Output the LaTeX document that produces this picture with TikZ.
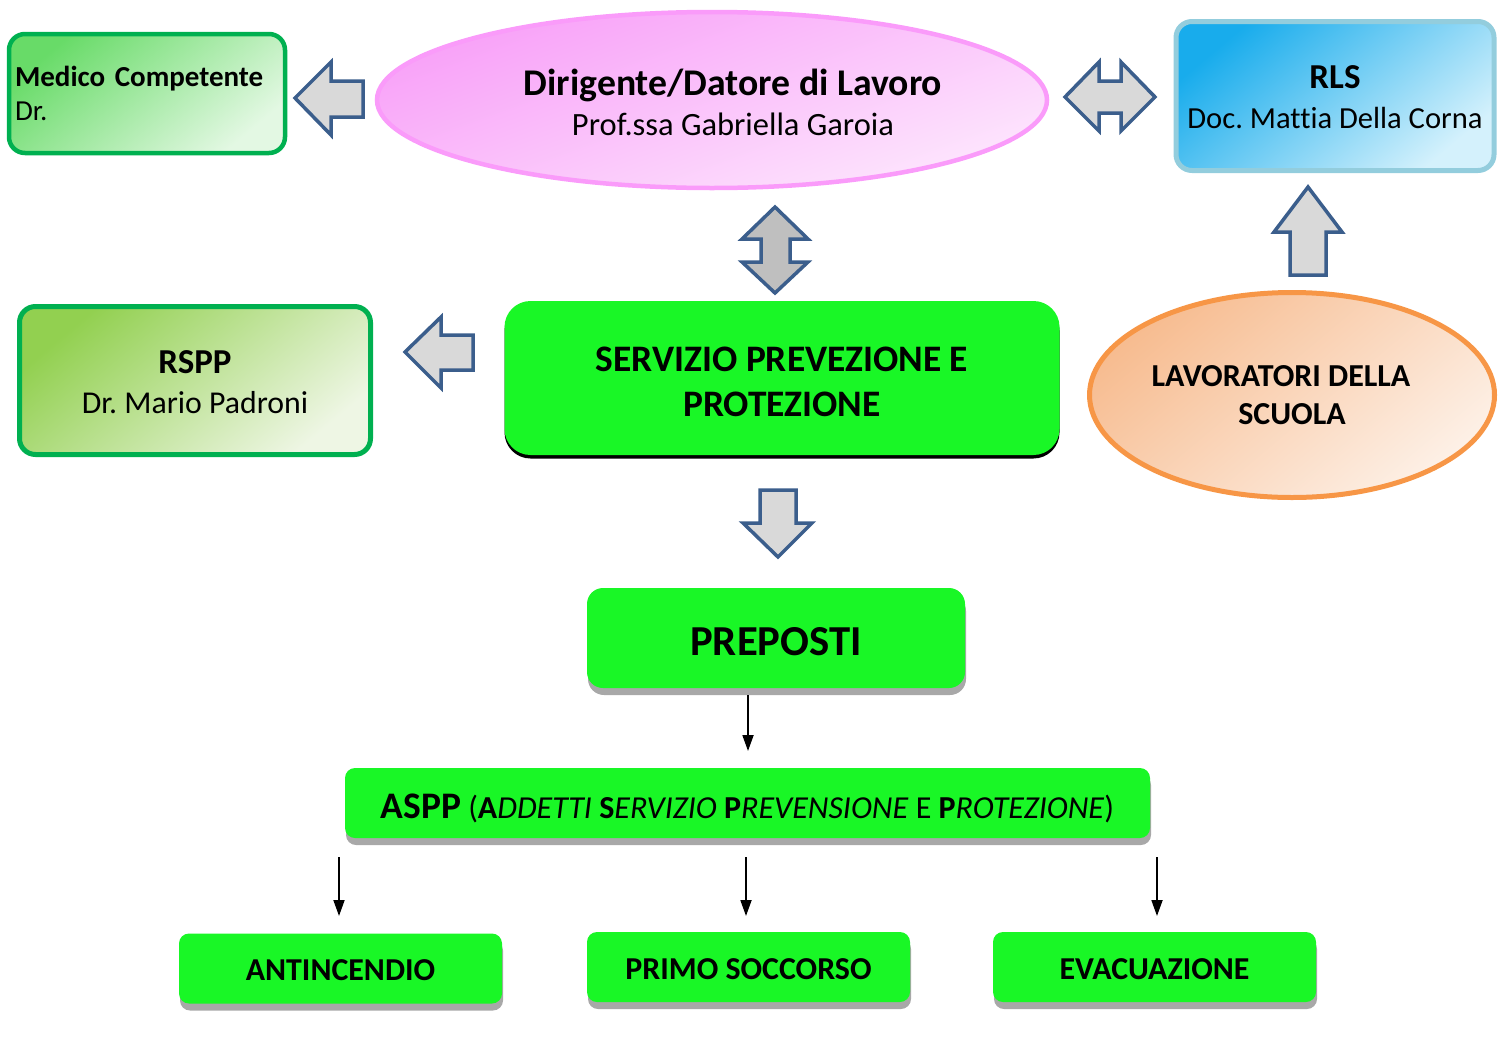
\documentclass[tikz,border=0pt]{standalone}
\usepackage{fontspec}
\setmainfont{Carlito}[Ligatures=NoCommon]
\usetikzlibrary{shapes.geometric,shadows,arrows.meta}
\definecolor{sppgreen}{HTML}{19F726}
\definecolor{shadowgray}{HTML}{A8A8A8}
\definecolor{arrowgray}{HTML}{D9D9D9}
\definecolor{arrowgraydark}{HTML}{BFBFBF}
\definecolor{arrowblue}{HTML}{3B5E8C}
\definecolor{medborder}{HTML}{00B050}
\definecolor{medtl}{HTML}{68DB68}
\definecolor{medbr}{HTML}{E3F8E3}
\definecolor{rsptl}{HTML}{92D050}
\definecolor{rspbr}{HTML}{EEF6E4}
\definecolor{rlsborder}{HTML}{93CDDD}
\definecolor{rlstl}{HTML}{18ACEC}
\definecolor{rlsbr}{HTML}{D4F1FC}
\definecolor{pinkborder}{HTML}{FA9BFA}
\definecolor{pinktl}{HTML}{F8A0F8}
\definecolor{pinkbr}{HTML}{FDE6FD}
\definecolor{orborder}{HTML}{F79646}
\definecolor{ortl}{HTML}{F7BC90}
\definecolor{orbr}{HTML}{FDF0E6}
\newcommand{\lowerby}[2]{\raisebox{-#1}[\height][\depth]{#2}}
\tikzset{
  diagshade/.style n args={3}{top color=#1, bottom color=#2, shading angle=#3},
  sidebox/.style={rectangle, rounded corners=16pt, inner sep=0pt},
  gbox/.style={rectangle, fill=sppgreen, inner sep=0pt, align=center,
    drop shadow={shadow xshift=1pt, shadow yshift=-7pt, fill=shadowgray, opacity=1}},
  blockarrow/.style={fill=arrowgray, draw=arrowblue, line width=3.5pt, line join=miter},
  thinarrow/.style={line width=1.8pt, -{Triangle[length=16pt,width=11pt]}},
  txt/.style={inner sep=0pt, align=center, text=black}
}
\begin{document}
\frenchspacing
\begin{tikzpicture}[x=1pt,y=-1pt]
\useasboundingbox (0,0) rectangle (1498,1063);

% ---------- Medico Competente
\node[sidebox, draw=medborder, line width=4.5pt, diagshade={medtl}{medbr}{40},
      minimum width=276pt, minimum height=119pt, text width=260pt, align=left,
      font=\fontsize{29}{34}\selectfont] (med) at (147,93.5)
  {\hspace*{-2pt}\textbf{Medico Competente}\\\hspace*{-2pt}Dr.};

% ---------- Dirigente
\node[ellipse, draw=pinkborder, line width=4.5pt, diagshade={pinktl}{pinkbr}{20},
      minimum width=670pt, minimum height=176pt, inner sep=0pt] (dl) at (712,100) {};
\node[txt, font=\fontsize{32.5}{40}\selectfont] (dltext) at (733,102)
  {{\fontsize{37.7}{40}\selectfont\textbf{Dirigente/Datore di Lavoro}}\\Prof.ssa Gabriella Garoia};

% ---------- RLS
\node[sidebox, draw=rlsborder, line width=5pt, diagshade={rlstl}{rlsbr}{40},
      minimum width=318pt, minimum height=149pt, align=center,
      font=\fontsize{30.6}{40}\selectfont] (rls) at (1335,96)
  {\lowerby{1pt}{\fontsize{35}{40}\selectfont\textbf{RLS}}\\\lowerby{1pt}{Doc. Mattia Della Corna}};

% ---------- RSPP
\node[sidebox, draw=medborder, line width=5pt, diagshade={rsptl}{rspbr}{40},
      minimum width=351pt, minimum height=148pt, align=center,
      font=\fontsize{31.8}{40}\selectfont] (rspp) at (195,380.5)
  {\lowerby{2pt}{\fontsize{35}{40}\selectfont\textbf{RSPP}}\\\lowerby{2pt}{Dr. Mario Padroni}};

% ---------- Lavoratori
\node[ellipse, draw=orborder, line width=5pt, diagshade={ortl}{orbr}{40},
      minimum width=405pt, minimum height=205pt, inner sep=0pt, align=center,
      font=\fontsize{32}{38}\selectfont\bfseries] (lav) at (1292,395)
  {LAVORATORI DELLA\hspace*{22pt}\\SCUOLA};

% ---------- Servizio Prevenzione e Protezione
\node[rectangle, rounded corners=26pt, fill=sppgreen, inner sep=0pt, align=center,
      minimum width=555pt, minimum height=154pt,
      drop shadow={shadow xshift=0pt, shadow yshift=-3.5pt, fill=black, opacity=1},
      font=\fontsize{37.4}{45}\selectfont\bfseries] (spp) at (782,378)
  {\lowerby{4pt}{SERVIZIO PREVEZIONE E}\\\lowerby{4pt}{PROTEZIONE}};

% ---------- Preposti
\node[gbox, rounded corners=16pt, minimum width=378pt, minimum height=100pt,
      font=\fontsize{42.7}{48}\selectfont\bfseries] (prep) at (776,638) {\lowerby{4pt}{PREPOSTI}};

% ---------- ASPP
\node[gbox, rounded corners=10pt, minimum width=805pt, minimum height=70pt] (aspp) at (747.5,803)
  {\lowerby{5pt}{{\fontsize{37.5}{40}\selectfont\textbf{ASPP}}\hspace{7pt}{\fontsize{32}{34}\selectfont(\textbf{A}\textit{DDETTI} \textbf{S}\textit{ERVIZIO} \textbf{P}\textit{REVENSIONE} E \textbf{P}\textit{ROTEZIONE})}}};

% ---------- bottom boxes
\node[gbox, rounded corners=10pt, minimum width=323pt, minimum height=70pt,
      font=\fontsize{31.9}{36}\selectfont\bfseries] (anti) at (340.5,968.5) {\lowerby{2pt}{ANTINCENDIO}};
\node[gbox, rounded corners=10pt, minimum width=323pt, minimum height=70pt,
      font=\fontsize{31.9}{36}\selectfont\bfseries] (primo) at (748.5,967) {\lowerby{2pt}{PRIMO SOCCORSO}};
\node[gbox, rounded corners=10pt, minimum width=323pt, minimum height=70pt,
      font=\fontsize{31.9}{36}\selectfont\bfseries] (evac) at (1154.5,967) {\lowerby{2pt}{EVACUAZIONE}};

% ---------- block arrows
\draw[blockarrow] (295,98) -- (331,62) -- (331,81) -- (363,81) -- (363,117) -- (331,117) -- (331,135) -- cycle;
\draw[blockarrow] (1065,97) -- (1099,62) -- (1099,81) -- (1121,81) -- (1121,62) -- (1155,97)
  -- (1121,131) -- (1121,113) -- (1099,113) -- (1099,131) -- cycle;
\draw[blockarrow] (1308,187) -- (1342,232) -- (1326,232) -- (1326,275) -- (1290,275) -- (1290,232) -- (1274,232) -- cycle;
\draw[blockarrow, fill=arrowgraydark] (775,207) -- (808,239) -- (790,239) -- (790,262) -- (808,262) -- (775,293)
  -- (742,262) -- (761,262) -- (761,239) -- (742,239) -- cycle;
\draw[blockarrow] (405,352) -- (441,317) -- (441,335) -- (473,335) -- (473,370) -- (441,370) -- (441,388) -- cycle;
\draw[blockarrow] (760,490) -- (796,490) -- (796,523) -- (812,523) -- (778,557) -- (743,523) -- (760,523) -- cycle;

% ---------- thin arrows
\coordinate (p1) at (748,695);
\coordinate (p2) at (748,751);
\draw[thinarrow] (p1) -- (p2);
\coordinate (b1s) at (339,857);
\coordinate (b1e) at (339,916);
\coordinate (b2s) at (746,857);
\coordinate (b2e) at (746,916);
\coordinate (b3s) at (1157,857);
\coordinate (b3e) at (1157,916);
\draw[thinarrow] (b1s) -- (b1e);
\draw[thinarrow] (b2s) -- (b2e);
\draw[thinarrow] (b3s) -- (b3e);
\end{tikzpicture}
\end{document}
